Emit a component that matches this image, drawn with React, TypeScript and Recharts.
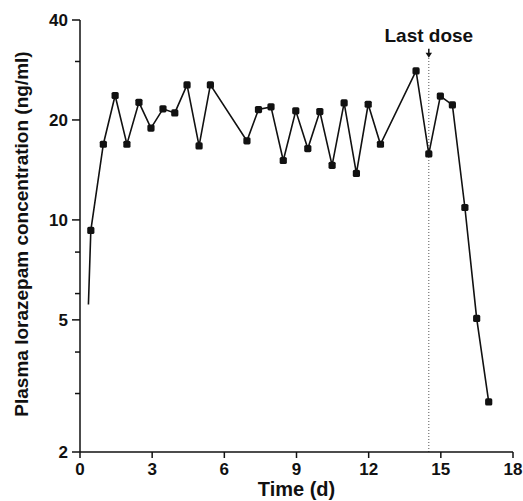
import { Line, LineChart, ReferenceDot, ReferenceLine, XAxis, YAxis } from 'recharts'

// time after start of dosing (days) and plasma lorazepam (ng/ml)
const times = [0.35, 0.45, 0.97, 1.46, 1.95, 2.45, 2.95, 3.45, 3.94, 4.45, 4.95, 5.42, 6.94, 7.42, 7.94, 8.45, 8.97, 9.47, 9.97, 10.48, 10.98, 11.49, 11.98, 12.49, 13.97, 14.5, 14.98, 15.48, 16.0, 16.49, 16.99]
const concentrations = [5.56, 9.3, 16.9, 23.7, 16.9, 22.6, 18.9, 21.6, 21.0, 25.5, 16.7, 25.5, 17.3, 21.5, 21.9, 15.1, 21.3, 16.4, 21.2, 14.6, 22.5, 13.8, 22.3, 16.9, 28.1, 15.8, 23.6, 22.2, 10.9, 5.05, 2.83]

const xTicks = [0, 3, 6, 9, 12, 15, 18]
const yTicks = [2, 3, 4, 5, 6, 7, 8, 9, 10, 20, 30, 40]
const yLabelled = [2, 5, 10, 20, 40]

const lastDoseDay = 14.5
const lastDoseLineRange = [2, 31]

const font = '"Liberation Sans", Arial, sans-serif'
const ink = '#111'

const data = times.map((t, i) => ({ t, conc: concentrations[i] }))

function YTick({ x, y, payload }: { x: number; y: number; payload: { value: number } }) {
  const major = yLabelled.includes(payload.value)
  const len = major ? 8 : 5
  return <g>
    <path d={`M${x - len},${y}H${x}`} stroke={ink} strokeWidth={1.5} fill="none" />
    {major ? <text x={x - 12} y={y} dy="0.36em" textAnchor="end" fontFamily={font} fontWeight="bold" fontSize={17} fill={ink}>{payload.value}</text> : null}
  </g>
}

function XTick({ x, y, payload }: { x: number; y: number; payload: { value: number } }) {
  return <g>
    <path d={`M${x},${y}V${y + 6}`} stroke={ink} strokeWidth={1.5} fill="none" />
    <text x={x} y={y + 23} textAnchor="middle" fontFamily={font} fontWeight="bold" fontSize={17} fill={ink}>{payload.value}</text>
  </g>
}

function SquareDot({ cx, cy, index }: { cx: number; cy: number; index: number }) {
  // the first sample is drawn as the start of the line only
  if (index === 0) return <g key={index} />
  return <rect key={index} x={cx - 3.6} y={cy - 3.6} width={7.2} height={7.2} rx={1.6} fill={ink} />
}

function LastDoseMarker({ cx, cy }: { cx: number; cy: number }) {
  return <g>
    <line x1={cx} x2={cx} y1={cy - 8} y2={cy - 3} stroke={ink} strokeWidth={1.5} />
    <path d={`M${cx - 3.2},${cy - 4} L${cx + 3.2},${cy - 4} L${cx},${cy + 1} Z`} fill={ink} />
    <text x={cx} y={cy - 15} textAnchor="middle" fontFamily={font} fontWeight="bold" fontSize={19} fill={ink}>Last dose</text>
  </g>
}

export default function App() {
  return <div style={{ position: 'absolute', left: 0, top: 0, width: 523, height: 501, background: '#fff' }}>
    <LineChart width={523} height={501} data={data} margin={{ top: 20, right: 10, left: 0, bottom: 0 }}>
      <XAxis
        dataKey="t" type="number" domain={[0, 18]} ticks={xTicks} height={49}
        axisLine={{ stroke: ink, strokeWidth: 1.5 }} tickLine={false} tickSize={0} tickMargin={0}
        tick={(props: any) => <XTick {...props} />}
        label={{
          content: ({ viewBox }: any) => <text x={viewBox.x + viewBox.width / 2} y={viewBox.y + 44} textAnchor="middle" fontFamily={font} fontWeight="bold" fontSize={20} fill={ink}>Time (d)</text>,
        }}
      />
      <YAxis
        type="number" scale="log" domain={[2, 40]} ticks={yTicks} width={80} allowDataOverflow
        axisLine={{ stroke: ink, strokeWidth: 1.5 }} tickLine={false} tickSize={0} tickMargin={0}
        tick={(props: any) => <YTick {...props} />}
        label={{
          content: ({ viewBox }: any) => {
            const cx = viewBox.x + 28
            const cy = viewBox.y + viewBox.height / 2 - 2
            return <text x={cx} y={cy} transform={`rotate(-90, ${cx}, ${cy})`} textAnchor="middle" fontFamily={font} fontWeight="bold" fontSize={19} fill={ink}>Plasma lorazepam concentration (ng/ml)</text>
          },
        }}
      />
      <ReferenceLine
        segment={[{ x: lastDoseDay, y: lastDoseLineRange[0] }, { x: lastDoseDay, y: lastDoseLineRange[1] }]}
        stroke="#555" strokeWidth={1} strokeDasharray="1 2"
      />
      <ReferenceDot x={lastDoseDay} y={lastDoseLineRange[1]} r={0} shape={(props: any) => <LastDoseMarker {...props} />} />
      <Line
        dataKey="conc" type="linear" stroke={ink} strokeWidth={1.6}
        dot={(props: any) => <SquareDot {...props} />} activeDot={false} isAnimationActive={false}
      />
    </LineChart>
  </div>
}
